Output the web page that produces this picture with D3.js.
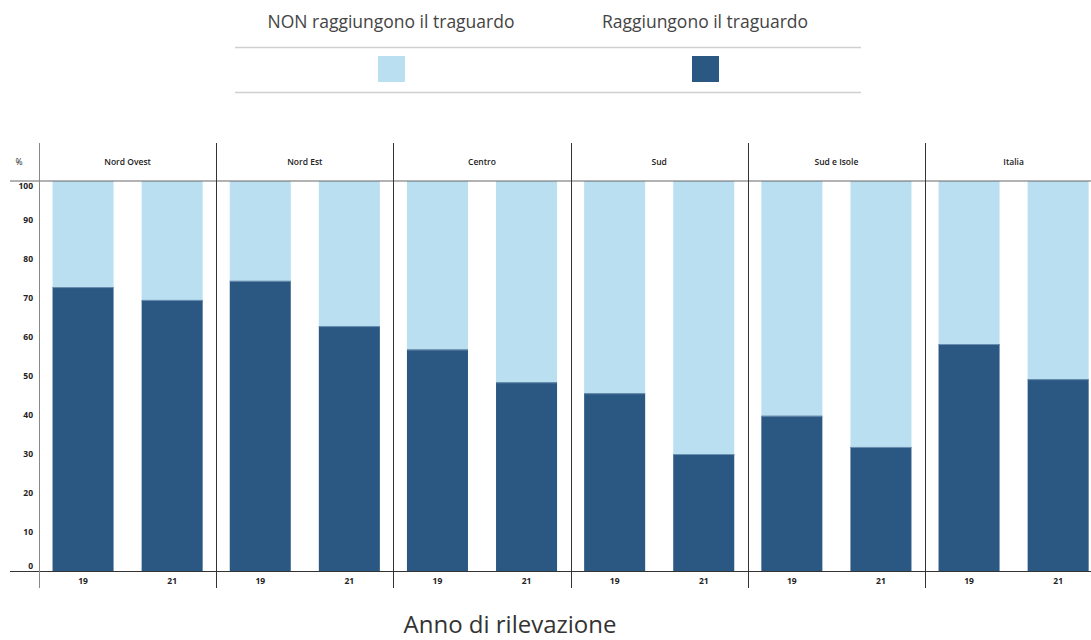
<!DOCTYPE html>
<html><head><meta charset="utf-8">
<script src="https://cdn.jsdelivr.net/npm/d3@7"></script>
<style>body{margin:0;background:#fff;}svg{display:block;}</style>
</head><body><svg id="c" width="1091" height="640"></svg>
<script>
const regions = ["Nord Ovest","Nord Est","Centro","Sud","Sud e Isole","Italia"];
const years = ["19","21"];
const reach19 = [72.8, 74.4, 56.8, 45.6, 39.8, 58.2];
const reach21 = [69.5, 62.8, 48.4, 30.0, 31.8, 49.2];
const yTicks = [0,10,20,30,40,50,60,70,80,90,100];
const legendLabels = ["NON raggiungono il traguardo","Raggiungono il traguardo"];
const colors = {non:"#b9dff1", yes:"#2b5883"};

const svg = d3.select("#c");
const font = "'Open Sans', sans-serif";

const data = [];
regions.forEach((r,i)=>{
  data.push({region:r, year:"19", yes:reach19[i]});
  data.push({region:r, year:"21", yes:reach21[i]});
});

const y = d3.scaleLinear().domain([0,100]).range([571,181]);
const xR = d3.scaleBand().domain(regions).range([39, 39+6*177.2]).padding(0);
const xY = d3.scaleBand().domain(years).range([0, xR.bandwidth()]).paddingInner(0.315).paddingOuter(0.152);

// Legend
const xL = d3.scalePoint().domain(legendLabels).range([391,705]);
svg.append("line").attr("x1",235).attr("x2",861).attr("y1",47.5).attr("y2",47.5).attr("stroke","#d0d0d0").attr("stroke-width",1.5);
svg.append("line").attr("x1",235).attr("x2",861).attr("y1",92.5).attr("y2",92.5).attr("stroke","#d0d0d0").attr("stroke-width",1.5);
legendLabels.forEach((l,i)=>{
  svg.append("text").attr("x",xL(l)).attr("y",28).attr("text-anchor","middle")
    .attr("font-family",font).attr("font-size",17.5).attr("fill","#444").text(l);
  svg.append("rect").attr("x",xL(l)-13).attr("y",56).attr("width",27).attr("height",26)
    .attr("fill", i===0?colors.non:colors.yes);
});

// bars
const g = svg.append("g");
const groups = g.selectAll("g.p").data(data).join("g").attr("transform",d=>`translate(${xR(d.region)+xY(d.year)},0)`);
groups.append("rect").attr("x",0).attr("width",xY.bandwidth()).attr("y",y(100)).attr("height",d=>y(d.yes)-y(100)).attr("fill",colors.non);
groups.append("rect").attr("x",0).attr("width",xY.bandwidth()).attr("y",d=>y(d.yes)).attr("height",d=>y(0)-y(d.yes)).attr("fill",colors.yes);
groups.append("line").attr("x1",0).attr("x2",xY.bandwidth()).attr("y1",d=>y(d.yes)+0.5).attr("y2",d=>y(d.yes)+0.5).attr("stroke","#6a8fb0").attr("stroke-width",1);

// horizontal lines
svg.append("line").attr("x1",10).attr("x2",1091).attr("y1",181).attr("y2",181).attr("stroke","#666").attr("stroke-width",1);
svg.append("line").attr("x1",10).attr("x2",1091).attr("y1",571.5).attr("y2",571.5).attr("stroke","#333").attr("stroke-width",1);

// vertical dividers
const divs = regions.map(r=>Math.round(xR(r))+0.5);
divs.forEach((x,i)=>{
  svg.append("line").attr("x1",x).attr("x2",x).attr("y1",143).attr("y2",588)
    .attr("stroke", i===0?"#888":"#333").attr("stroke-width",1);
});

// y axis labels
const yAxis = d3.axisLeft(y).tickValues(yTicks).tickSize(0).tickPadding(0);
const ya = svg.append("g").attr("transform","translate(33,0)").call(yAxis);
ya.select(".domain").remove();
ya.selectAll("text").attr("font-family",font).attr("font-size",8.5).attr("font-weight",700).attr("fill","#222")
  .attr("dy", d=> d===100 ? "0.9em" : d===0 ? "-0.3em" : "0.32em");
svg.append("text").attr("x",19).attr("y",165).attr("text-anchor","middle").attr("font-family",font).attr("font-size",8.5).attr("fill","#222").text("%");

// region headers
svg.selectAll("text.rh").data(regions).join("text").attr("class","rh")
  .attr("x",d=>xR(d)+xR.bandwidth()/2).attr("y",165).attr("text-anchor","middle")
  .attr("font-family",font).attr("font-size",8.5).attr("font-weight",600).attr("fill","#222").text(d=>d);

// year labels
svg.selectAll("text.yl").data(data).join("text").attr("class","yl")
  .attr("x",d=>xR(d.region)+xY(d.year)+xY.bandwidth()/2).attr("y",584).attr("text-anchor","middle")
  .attr("font-family",font).attr("font-size",8.5).attr("font-weight",700).attr("fill","#222").text(d=>d.year);

// axis title
svg.append("text").attr("x",510).attr("y",633).attr("text-anchor","middle")
  .attr("font-family",font).attr("font-size",24).attr("fill","#333").text("Anno di rilevazione");
</script>
</body></html>
